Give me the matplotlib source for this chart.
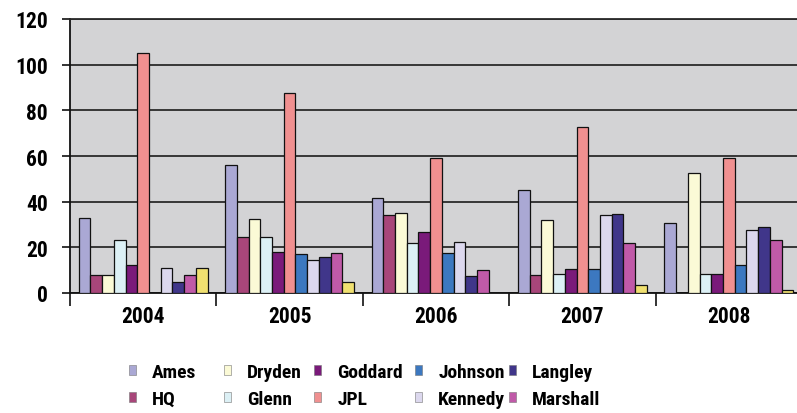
from matplotlib import pyplot as plt
from matplotlib.patches import Patch
import numpy as np

YEARS = ['2004', '2005', '2006', '2007', '2008']

CENTERS = ['Ames', 'HQ', 'Dryden', 'Glenn', 'Goddard', 'JPL',
           'Johnson', 'Kennedy', 'Langley', 'Marshall', 'Stennis']

AMES     = [33, 56, 41.6, 45.2, 30.5]
HQ       = [8, 24.5, 34.3, 7.8, 0]
DRYDEN   = [8, 32.6, 35, 31.9, 52.6]
GLENN    = [23.4, 24.5, 21.8, 8.5, 8.5]
GODDARD  = [12.2, 18, 26.9, 10.7, 8.5]
JPL      = [105, 87.6, 59, 72.9, 59]
JOHNSON  = [0, 17.1, 17.3, 10.7, 12.3]
KENNEDY  = [10.8, 14.3, 22.5, 34.1, 27.7]
LANGLEY  = [4.8, 15.8, 7.3, 34.8, 29.1]
MARSHALL = [7.8, 17.3, 10.1, 21.7, 23.3]
STENNIS  = [10.8, 4.8, 0, 3.5, 1.2]

COLORS = ['#aaa8d4', '#a8467a', '#fbfad6', '#dcf0f5', '#7a1a7a', '#f09090',
          '#3c78c0', '#dcd8ee', '#40368a', '#c05aa8', '#f0e070']

# legend shows only the first ten centers, laid out column by column
LEGEND_COLUMNS = [('Ames', 'HQ'), ('Dryden', 'Glenn'), ('Goddard', 'JPL'),
                  ('Johnson', 'Kennedy'), ('Langley', 'Marshall')]
LEGEND_X = [129, 224, 314, 415, 509]

FONT = ['Roboto Condensed', 'DejaVu Sans']

plt.rcParams['font.family'] = FONT
plt.rcParams['font.weight'] = 'bold'

W, H = 797, 414
fig = plt.figure(figsize = (W / 100, H / 100), dpi = 100)
ax = fig.add_axes([70 / W, (H - 294) / H, 732 / W, 274 / H])
ax.set_facecolor('#d3d3d5')

series = [AMES, HQ, DRYDEN, GLENN, GODDARD, JPL, JOHNSON, KENNEDY, LANGLEY, MARSHALL, STENNIS]
x = np.arange(len(YEARS))
bw = 0.08
for i, (name, vals) in enumerate(zip(CENTERS, series)):
  ax.bar(x + (i - 5) * bw, vals, bw, color = COLORS[i], edgecolor = '#111111',
         linewidth = 0.9, zorder = 3)

ax.set_xlim(-0.5, 4.5)
ax.set_ylim(0, 120)
ax.set_yticks(range(0, 121, 20))
ax.yaxis.grid(True, color = '#2a2a2a', linewidth = 1.3, zorder = 1)
ax.set_axisbelow(True)

ax.set_xticks(x)
ax.set_xticklabels(YEARS)
ax.set_xticks(np.arange(-0.5, 4.6, 1), minor = True)
ax.tick_params(axis = 'x', which = 'major', length = 0, pad = 9, labelsize = 15.5)
ax.tick_params(axis = 'x', which = 'minor', length = 9, width = 1.2, color = '#111111')
ax.tick_params(axis = 'y', length = 6, width = 1.2, pad = 10, labelsize = 15.5, color = '#111111')

for s in ['left', 'bottom']:
  ax.spines[s].set_linewidth(1.3)
  ax.spines[s].set_color('#111111')
ax.spines['top'].set_color('#2a2a2a')
ax.spines['top'].set_linewidth(1.3)
ax.spines['right'].set_visible(False)

col_of = dict(zip(CENTERS, COLORS))
for cx, names in zip(LEGEND_X, LEGEND_COLUMNS):
  handles = [Patch(facecolor = col_of[n], edgecolor = '#777777', linewidth = 0.4, label = n)
             for n in names]
  fig.legend(handles = handles, loc = 'upper left', bbox_to_anchor = (cx / W, 1 - 364 / H),
             frameon = False, fontsize = 14, handlelength = 0.34, handleheight = 0.42,
             handletextpad = 0.85, labelspacing = 0.45, borderpad = 0, borderaxespad = 0)

fig.savefig('out.png', dpi = 100)
